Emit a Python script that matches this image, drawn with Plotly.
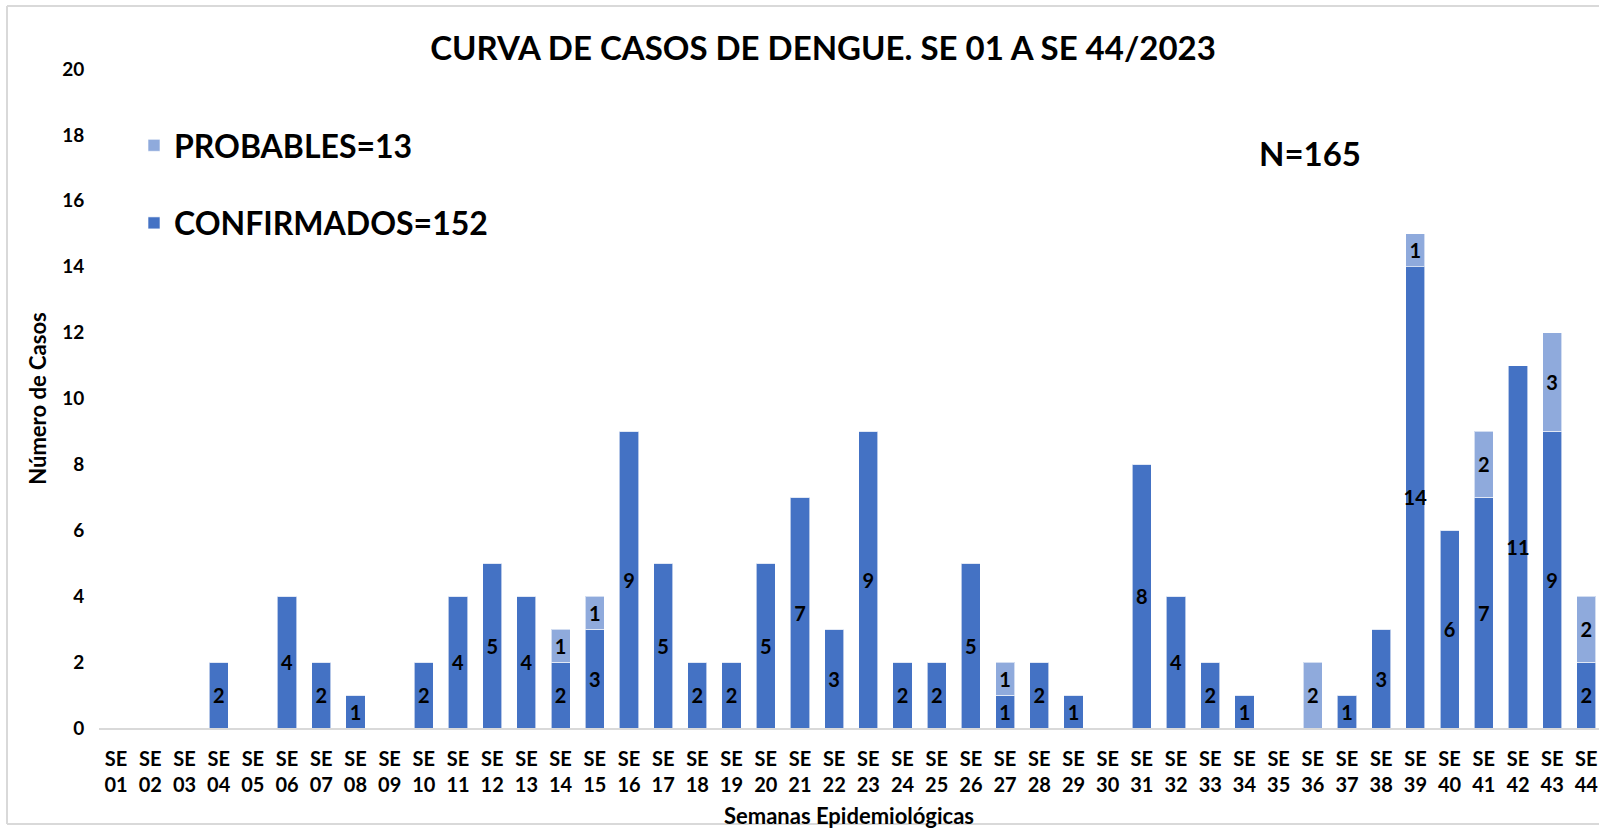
import plotly.graph_objects as go

weeks = [f"SE {i:02d}" for i in range(1, 45)]
confirmados = [0, 0, 0, 2, 0, 4, 2, 1, 0, 2, 4, 5, 4, 2, 3, 9, 5, 2, 2, 5, 7, 3,
               9, 2, 2, 5, 1, 2, 1, 0, 8, 4, 2, 1, 0, 0, 1, 3, 14, 6, 7, 11, 9, 2]
probables = [0, 0, 0, 0, 0, 0, 0, 0, 0, 0, 0, 0, 0, 1, 1, 0, 0, 0, 0, 0, 0, 0,
             0, 0, 0, 0, 1, 0, 0, 0, 0, 0, 0, 0, 0, 2, 0, 0, 1, 0, 2, 0, 3, 2]
tick_text = [w.replace(" ", "<br>") for w in weeks]
y_ticks = list(range(0, 21, 2))

title_text = "CURVA DE CASOS DE DENGUE. SE 01 A SE 44/2023"
n_text = "N=165"
name_conf = "CONFIRMADOS=152"
name_prob = "PROBABLES=13"

FONT = "Lato"
W, H = 1599, 829
L, R, T, B = 99, 0, 69, 101
PW, PH = W - L - R, H - T - B


def px(xp):
    return (xp - L) / PW


def py(yp):
    return (H - B - yp) / PH


fig = go.Figure()
fig.add_trace(go.Bar(
    x=weeks, y=confirmados, name=name_conf, legendgroup="c", legendrank=2,
    marker=dict(color="#4472C4", line=dict(color="rgba(255,255,255,0.6)", width=1)),
    text=[str(v) if v else "" for v in confirmados],
    textposition="inside", insidetextanchor="middle", textangle=0,
    constraintext="none",
    textfont=dict(family=FONT, size=20, color="black", weight="bold"),
))
fig.add_trace(go.Bar(
    x=weeks, y=probables, name=name_prob, legendgroup="p", legendrank=1,
    marker=dict(color="#8FAADC", line=dict(color="rgba(255,255,255,0.6)", width=1)),
    text=[str(v) if v else "" for v in probables],
    textposition="inside", insidetextanchor="middle", textangle=0,
    constraintext="none",
    textfont=dict(family=FONT, size=20, color="black", weight="bold"),
))

fig.update_layout(
    width=W, height=H,
    margin=dict(l=L, r=R, t=T, b=B, pad=0, autoexpand=False),
    paper_bgcolor="white", plot_bgcolor="white",
    barmode="stack", bargap=0.44,
    uniformtext=dict(mode="show", minsize=20),
    font=dict(family=FONT, color="black"),
    title=dict(text=title_text, x=823 / W, xanchor="center", y=1 - 48 / H,
               yanchor="middle", xref="container", yref="container",
               font=dict(family=FONT, size=33, color="black", weight="bold")),
    legend=dict(x=px(134), y=py(118), xanchor="left", yanchor="top",
                traceorder="grouped", tracegroupgap=33,
                bgcolor="rgba(0,0,0,0)",
                font=dict(family=FONT, size=32, color="black", weight="bold")),
    showlegend=True,
)
fig.update_xaxes(
    type="category", range=[-0.5, 43.37], automargin=False,
    tickmode="array", tickvals=weeks, ticktext=tick_text, tickangle=0,
    ticks="outside", ticklen=12, tickcolor="rgba(0,0,0,0)",
    showgrid=False, zeroline=False, showline=True, linecolor="#d9d9d9", linewidth=2,
    tickfont=dict(family=FONT, size=20, color="black", weight="bold"),
    title=dict(text="Semanas Epidemiológicas", standoff=18,
               font=dict(family=FONT, size=22, color="black", weight="bold")),
)
fig.update_yaxes(
    range=[0, 20], tickmode="array", tickvals=y_ticks, automargin=False,
    ticks="outside", ticklen=10, tickcolor="rgba(0,0,0,0)",
    showgrid=False, zeroline=False, showline=False,
    tickfont=dict(family=FONT, size=19, color="black", weight="bold"),
    title=dict(text="Número de Casos", standoff=9,
               font=dict(family=FONT, size=22, color="black", weight="bold")),
)

fig.add_annotation(text=n_text, xref="paper", yref="paper", x=px(1310), y=py(153),
                   xanchor="center", yanchor="middle", showarrow=False,
                   font=dict(family=FONT, size=33, color="black", weight="bold"))

# chart frame (top, left and bottom edges; right edge lies outside the view)
frame = dict(color="#d9d9d9", width=2)
fig.add_shape(type="line", xref="paper", yref="paper",
              x0=px(7), x1=1.0, y0=py(6), y1=py(6), line=frame, layer="below")
fig.add_shape(type="line", xref="paper", yref="paper",
              x0=px(7), x1=px(7), y0=py(6), y1=py(824), line=frame, layer="below")
fig.add_shape(type="line", xref="paper", yref="paper",
              x0=px(7), x1=1.0, y0=py(824), y1=py(824), line=frame, layer="below")

fig.write_html("out.html", config={"displayModeBar": False},
               post_script="document.body.style.margin='0';document.body.style.overflow='hidden';")
